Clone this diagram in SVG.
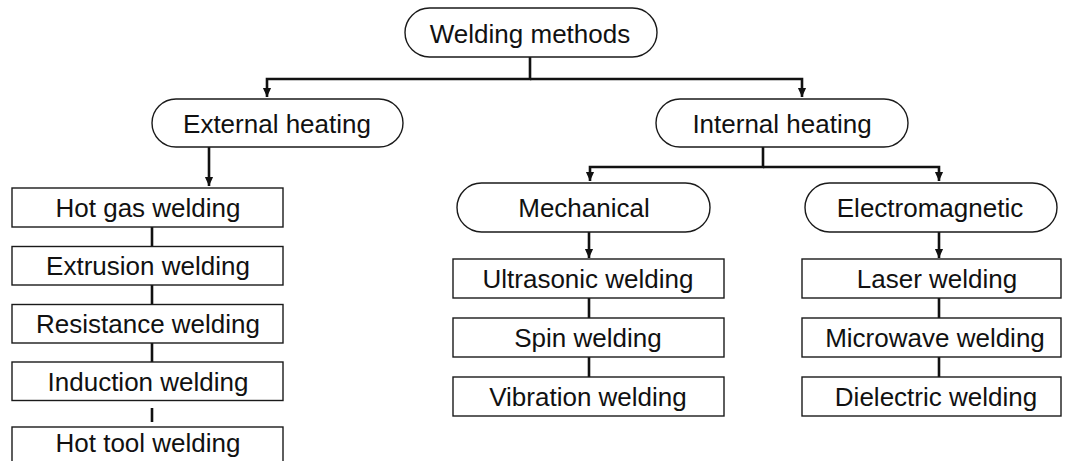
<svg xmlns="http://www.w3.org/2000/svg" width="1070" height="461" viewBox="0 0 1070 461">
<defs>
<style>
.rb{fill:#fff;stroke:#1a1a1a;stroke-width:1.4}
.bx{fill:#fff;stroke:#1a1a1a;stroke-width:1.4}
.t{font-family:"Liberation Sans",Arial,sans-serif;font-size:26px;fill:#111;text-anchor:middle}
.c{fill:none;stroke:#111;stroke-width:2.6}
</style>
<marker id="arr" markerUnits="userSpaceOnUse" markerWidth="10" markerHeight="12" refX="11" refY="5" orient="auto" viewBox="0 0 12 10">
<path d="M0,0 L11,5 L0,10 Z" fill="#111"/>
</marker>
</defs>
<rect width="1070" height="461" fill="#fff"/>
<g id="connectors">
<path class="c" d="M530,57 V79 H267 V97" marker-end="url(#arr)"/>
<path class="c" d="M530,79 H802 V97" marker-end="url(#arr)"/>
<path class="c" d="M209,147 V186" marker-end="url(#arr)"/>
<path class="c" d="M763,147 V167 H590 V181" marker-end="url(#arr)"/>
<path class="c" d="M763,167 H939 V181" marker-end="url(#arr)"/>
<path class="c" d="M589,232 V258" marker-end="url(#arr)"/>
<path class="c" d="M939,232 V258" marker-end="url(#arr)"/>
<path class="c" d="M152,227 V246.5 M152,285 V304.5 M152,343 V362 M152,408 V422"/>
<path class="c" d="M589,298 V318 M589,357 V377"/>
<path class="c" d="M939,298 V318 M939,357 V377"/>
</g>
<g id="welding-methods">
<rect class="rb" x="405" y="8" width="252" height="49" rx="24.5"/>
<text class="t" x="530" y="43">Welding methods</text>
</g>
<g id="external-heating">
<rect class="rb" x="152" y="99" width="251" height="48" rx="24"/>
<text class="t" x="277" y="133">External heating</text>
</g>
<g id="internal-heating">
<rect class="rb" x="656" y="99" width="252" height="48" rx="24"/>
<text class="t" x="782" y="133">Internal heating</text>
</g>
<g id="mechanical">
<rect class="rb" x="457" y="183" width="253" height="49" rx="24.5"/>
<text class="t" x="584" y="217">Mechanical</text>
</g>
<g id="electromagnetic">
<rect class="rb" x="805" y="183" width="252" height="49" rx="24.5"/>
<text class="t" x="930" y="217">Electromagnetic</text>
</g>
<g id="hot-gas">
<rect class="bx" x="12" y="188" width="271" height="39"/>
<text class="t" x="148" y="217">Hot gas welding</text>
</g>
<g id="extrusion">
<rect class="bx" x="12" y="246.5" width="271" height="38.5"/>
<text class="t" x="148" y="275">Extrusion welding</text>
</g>
<g id="resistance">
<rect class="bx" x="12" y="304.5" width="271" height="38.5"/>
<text class="t" x="148" y="333">Resistance welding</text>
</g>
<g id="induction">
<rect class="bx" x="12" y="362" width="271" height="38.5"/>
<text class="t" x="148" y="391">Induction welding</text>
</g>
<g id="hot-tool">
<rect class="bx" x="12" y="427" width="271" height="40"/>
<text class="t" x="148" y="452">Hot tool welding</text>
</g>
<g id="ultrasonic">
<rect class="bx" x="453" y="259" width="271" height="39"/>
<text class="t" x="588" y="288">Ultrasonic welding</text>
</g>
<g id="spin">
<rect class="bx" x="453" y="318" width="271" height="39"/>
<text class="t" x="588" y="347">Spin welding</text>
</g>
<g id="vibration">
<rect class="bx" x="453" y="377" width="271" height="39"/>
<text class="t" x="588" y="406">Vibration welding</text>
</g>
<g id="laser">
<rect class="bx" x="802" y="259" width="259" height="39"/>
<text class="t" x="937" y="288">Laser welding</text>
</g>
<g id="microwave">
<rect class="bx" x="802" y="318" width="259" height="39"/>
<text class="t" x="935" y="347">Microwave welding</text>
</g>
<g id="dielectric">
<rect class="bx" x="802" y="377" width="259" height="39"/>
<text class="t" x="936" y="406">Dielectric welding</text>
</g>
</svg>
